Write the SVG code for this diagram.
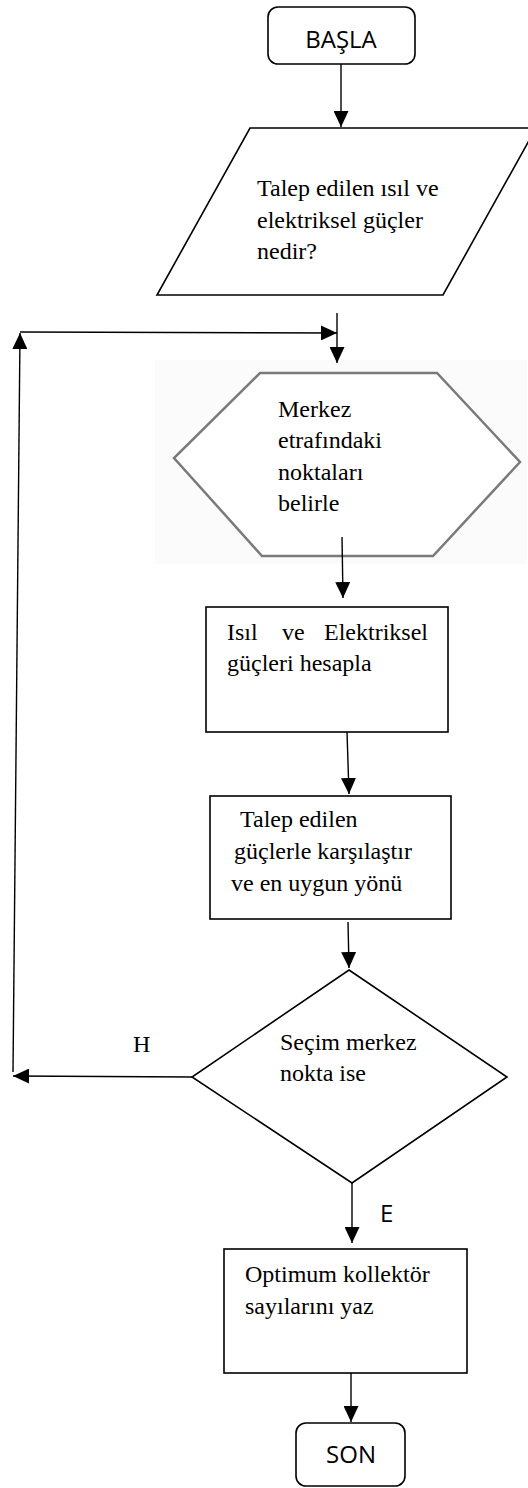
<svg xmlns="http://www.w3.org/2000/svg" width="528" height="1488" viewBox="0 0 528 1488">
<style>
.shape{fill:#fff;stroke:#000;stroke-width:1.6}
.hex{fill:#fff;stroke:#7a7a7a;stroke-width:2.5}
.serif{font-family:"Liberation Serif","Times New Roman",serif;font-size:24px;fill:#000}
.sans{font-family:"Open Sans","Liberation Sans",sans-serif;font-size:24px;fill:#000}
.conn{fill:none;stroke:#000;stroke-width:1.4}
</style>
<defs>
<marker id="arr" markerUnits="userSpaceOnUse" markerWidth="16" markerHeight="15" refX="16" refY="7.5" orient="auto">
<path d="M0,0 L16,7.5 L0,15 z" fill="#000"/>
</marker>
</defs>
<rect width="528" height="1488" fill="#fff"/>
<g id="start">
<rect class="shape" x="268" y="7" width="147" height="57" rx="10"/>
<text class="sans" x="341" y="48" text-anchor="middle">BAŞLA</text>
</g>
<g id="input">
<polygon class="shape" points="250,128 536,128 443,295 157,295"/>
<text class="serif" x="257" y="196">Talep edilen ısıl ve</text>
<text class="serif" x="257" y="228">elektriksel güçler</text>
<text class="serif" x="257" y="259">nedir?</text>
</g>
<g id="points">
<rect x="155" y="360" width="372" height="204" fill="#fbfbfb"/>
<polygon class="hex" points="260,373 437,373 520,462 433,556 262,556 174,458"/>
<text class="serif" x="278" y="417">Merkez</text>
<text class="serif" x="278" y="448">etrafındaki</text>
<text class="serif" x="278" y="480">noktaları</text>
<text class="serif" x="278" y="511">belirle</text>
</g>
<g id="calc">
<rect class="shape" x="206" y="607" width="242" height="125"/>
<text class="serif" x="227" y="640">Isıl</text>
<text class="serif" x="282" y="640">ve</text>
<text class="serif" x="428" y="640" text-anchor="end">Elektriksel</text>
<text class="serif" x="227" y="671">güçleri hesapla</text>
</g>
<g id="compare">
<rect class="shape" x="210" y="796" width="241" height="123"/>
<text class="serif" x="240" y="827">Talep edilen</text>
<text class="serif" x="234" y="859">güçlerle karşılaştır</text>
<text class="serif" x="231" y="891">ve en uygun yönü</text>
</g>
<g id="decision">
<polygon class="shape" points="349,970 507,1077 352,1183 192,1077"/>
<text class="serif" x="280" y="1050">Seçim merkez</text>
<text class="serif" x="280" y="1081">nokta ise</text>
</g>
<g id="output">
<rect class="shape" x="224" y="1249" width="243" height="124"/>
<text class="serif" x="245" y="1282">Optimum kollektör</text>
<text class="serif" x="245" y="1314">sayılarını yaz</text>
</g>
<g id="end">
<rect class="shape" x="296" y="1423" width="109" height="63" rx="10"/>
<text class="sans" x="351" y="1463" text-anchor="middle">SON</text>
</g>
<g id="connectors">
<path class="conn" d="M341,64 L341,127" marker-end="url(#arr)"/>
<path class="conn" d="M337,313 L337,363" marker-end="url(#arr)"/>
<path class="conn" d="M192,1077 L13,1076" marker-end="url(#arr)"/>
<path class="conn" d="M13,1072 L20,333" marker-end="url(#arr)"/>
<path class="conn" d="M20,332 L337,333" marker-end="url(#arr)"/>
<path class="conn" d="M342,537 L343,598" marker-end="url(#arr)"/>
<path class="conn" d="M347,732 L349,794" marker-end="url(#arr)"/>
<path class="conn" d="M348,922 L349,968" marker-end="url(#arr)"/>
<path class="conn" d="M352,1183 L352,1243" marker-end="url(#arr)"/>
<path class="conn" d="M351,1373 L351,1422" marker-end="url(#arr)"/>
<text class="serif" x="133" y="1052">H</text>
<text class="sans" x="380" y="1222" font-size="23">E</text>
</g>
</svg>
